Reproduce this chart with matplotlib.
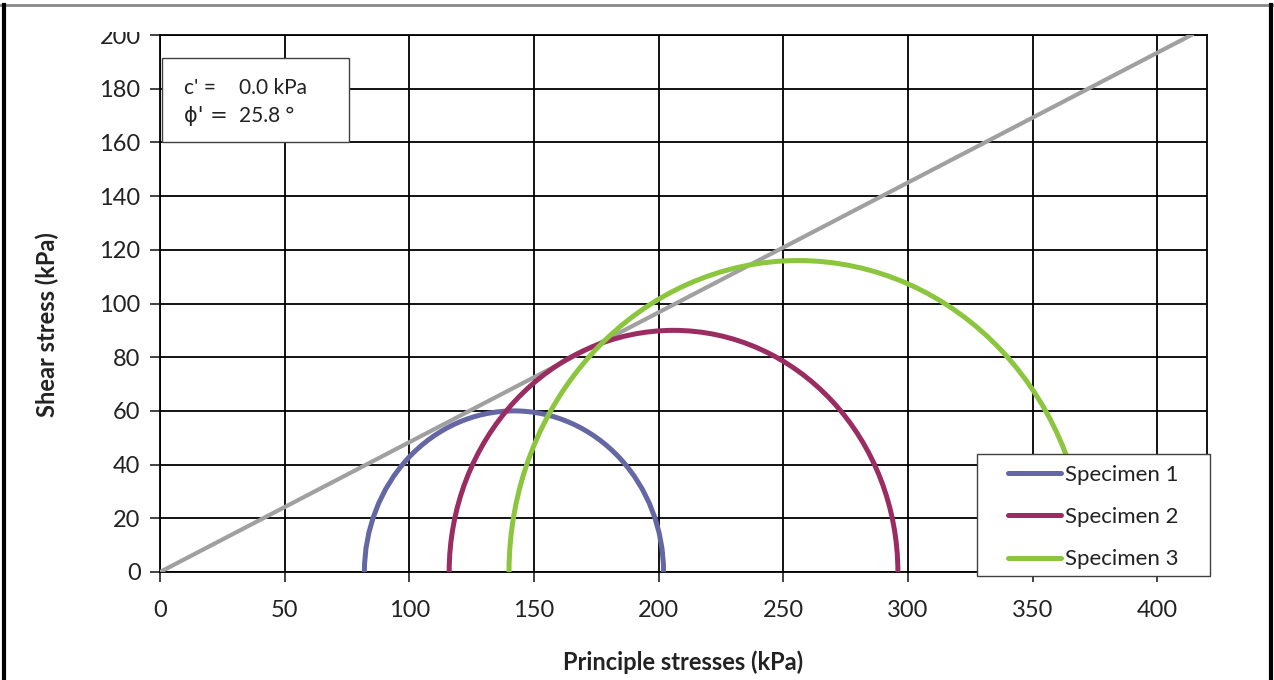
import numpy as np
import matplotlib
matplotlib.use("Agg")
from matplotlib import pyplot as plt
from matplotlib.patches import Arc, Rectangle
from matplotlib.lines import Line2D

# Mohr circle data (kPa)
specimens = ["Specimen 1", "Specimen 2", "Specimen 3"]
sigma3 = [82, 116, 140]     # minor principal stress
sigma1 = [202, 296, 372]    # major principal stress
colors = ["#6467A3", "#9B2C62", "#8CC63E"]

# failure envelope
c_eff = 0.0      # kPa
phi_eff = 25.8   # degrees

xticks = [0, 50, 100, 150, 200, 250, 300, 350, 400]
yticks = [0, 20, 40, 60, 80, 100, 120, 140, 160, 180, 200]

plt.rcParams['font.family'] = ['Lato', 'DejaVu Sans']

fig = plt.figure(figsize=(12.74, 6.80), dpi=100)
W, H = 1274, 680
ax = fig.add_axes([160/W, 1-572/H, (1207-160)/W, (572-35)/H])

# envelope line
ax.axline((0, c_eff), slope=np.tan(np.radians(phi_eff)), color="#A0A0A0", lw=3, zorder=3)

# circles
handles = []
for name, s3, s1, col in zip(specimens, sigma3, sigma1, colors):
    cen = (s1 + s3) / 2
    d = s1 - s3
    arc = Arc((cen, 0), d, d, theta1=0, theta2=180, color=col, lw=3.6, zorder=4)
    ax.add_patch(arc)
    handles.append(Line2D([], [], color=col, lw=3.6, solid_capstyle='round'))

ax.set_xlim(0, 420)
ax.set_ylim(0, 200)
ax.set_xticks(xticks)
ax.set_yticks(yticks)
ax.grid(True, color="black", lw=1.3)
ax.set_axisbelow(True)
for sp in ax.spines.values():
    sp.set_color("black")
    sp.set_linewidth(1.3)
ax.tick_params(direction='out', length=7, width=1.2, colors="#222222",
               labelsize=17, pad=7)
ax.tick_params(axis='x', pad=13)

fig.text(683/W, 1-662/H, "Principle stresses (kPa)", ha='center', va='center',
         fontsize=17, fontweight='bold', color="#222222")
fig.text(47/W, 1-325/H, "Shear stress (kPa)", ha='center', va='center',
         rotation=90, fontsize=17, fontweight='bold', color="#222222")

# parameter box
fig.patches.append(Rectangle((162/W, 1-142/H), (349-162)/W, (142-58)/H,
                             transform=fig.transFigure, facecolor='white',
                             edgecolor='#404040', lw=1, zorder=5))
fig.text(184/W, 1-88/H, "c' =", ha='left', va='center', fontsize=15,
         color="#222222", zorder=6)
fig.text(239/W, 1-88/H, "%.1f kPa" % c_eff, ha='left', va='center', fontsize=15,
         color="#222222", zorder=6)
fig.text(184/W, 1-116/H, "\u03d5' =", ha='left', va='center', fontsize=15,
         color="#222222", zorder=6, family=['DejaVu Sans'])
fig.text(239/W, 1-116/H, "%.1f \u00b0" % phi_eff, ha='left', va='center', fontsize=15,
         color="#222222", zorder=6)

# legend box drawn separately so its padding can match
fig.patches.append(Rectangle((977/W, 1-576/H), (1210-977)/W, (576-454)/H,
                             transform=fig.transFigure, facecolor='white',
                             edgecolor='#404040', lw=1, zorder=5))
leg = fig.legend(handles, specimens, loc='upper left',
                 bbox_to_anchor=(1008/W, 1-465/H), borderaxespad=0,
                 fontsize=16, frameon=False,
                 handlelength=2.4, handletextpad=0.15, labelspacing=1.0,
                 borderpad=0)
leg.set_zorder(7)
for t in leg.get_texts():
    t.set_color("#222222")

# clipped top of the picture and outer borders
fig.patches.append(Rectangle((0, 1-32/H), 1, 32/H, transform=fig.transFigure,
                             facecolor='white', edgecolor='none', zorder=8))
fig.lines.append(Line2D([0, 1], [1-5/H, 1-5/H], transform=fig.transFigure,
                        color="#888888", lw=2, zorder=9))
fig.lines.append(Line2D([3.5/W, 3.5/W], [0, 1-5/H], transform=fig.transFigure,
                        color="black", lw=3, zorder=9))
fig.lines.append(Line2D([1271/W, 1271/W], [0, 1-5/H], transform=fig.transFigure,
                        color="black", lw=3, zorder=9))

fig.savefig("out.png", dpi=100)
